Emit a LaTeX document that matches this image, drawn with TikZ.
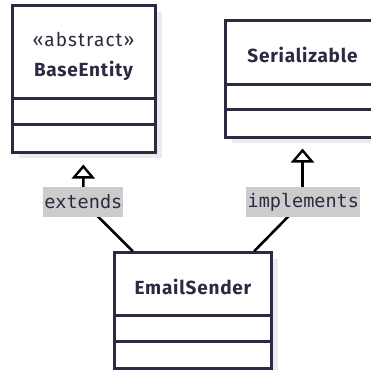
\documentclass[tikz,border=0pt]{standalone}
\usepackage{fontspec}
\setmainfont{Fira Sans}[LetterSpace=6]
\newfontfamily\namefont{Fira Sans Bold}[LetterSpace=4]
\newfontfamily\labelmono{DejaVu Sans Mono}
\usetikzlibrary{arrows.meta,calc}

\definecolor{ink}{HTML}{2B2A40}
\definecolor{shade}{HTML}{EBEBEE}
\definecolor{tagbg}{HTML}{CCCCCC}

\tikzset{
  classbox/.style={draw=ink, line width=3pt, fill=white, rectangle, inner sep=0pt},
  boxshadow/.style={fill=shade, draw=none},
  divider/.style={draw=ink, line width=3pt},
  classname/.style={text=ink, font=\namefont\fontsize{19}{21}\selectfont, inner sep=0pt, anchor=base},
  stereo/.style={text=ink, font=\fontsize{19}{21}\selectfont, inner sep=0pt, anchor=base},
  relation/.style={draw=black, line width=2.6pt, line join=miter,
    -{Triangle[open, width=23pt, length=14pt, line width=2.4pt, fill=white]}},
  reltag/.style={fill=tagbg, text=ink, font=\labelmono\fontsize{18.5}{20}\selectfont,
    inner xsep=1.2pt, inner ysep=0pt, minimum height=29.4pt}
}

\begin{document}
\begin{tikzpicture}[x=1pt, y=-1pt]
  \useasboundingbox (0,0) rectangle (371,369);

  % drop shadows behind the class boxes
  \fill[boxshadow] (19,12) rectangle (162,158);
  \fill[boxshadow] (232,27) rectangle (386,143);
  \fill[boxshadow] (121,259) rectangle (278,375);

  % class boxes
  \node[classbox, minimum width=143pt, minimum height=146pt] (base) at (83.5,79) {};
  \node[classbox, minimum width=153.6pt, minimum height=116pt] (ser) at (302.5,79) {};
  \node[classbox, minimum width=157.4pt, minimum height=115.6pt] (email) at (193,310.5) {};

  % compartment dividers
  \draw[divider] ($(base.north west)+(0,94)$) -- ($(base.north east)+(0,94)$);
  \draw[divider] ($(base.north west)+(0,120)$) -- ($(base.north east)+(0,120)$);
  \draw[divider] ($(ser.north west)+(0,65)$) -- ($(ser.north east)+(0,65)$);
  \draw[divider] ($(ser.north west)+(0,90)$) -- ($(ser.north east)+(0,90)$);
  \draw[divider] ($(email.north west)+(0,64)$) -- ($(email.north east)+(0,64)$);
  \draw[divider] ($(email.north west)+(0,90)$) -- ($(email.north east)+(0,90)$);

  % class names
  \node[stereo] (baseStereo) at (83.5,46.7) {«abstract»};
  \node[classname] (baseName) at (83.5,76.5) {BaseEntity};
  \node[classname] (serName) at (302.5,62) {Serializable};
  \node[classname] (emailName) at (193,294) {EmailSender};

  % relation bends and free ends
  \coordinate (extStart) at ($(email.north west)+(20,0)$);
  \coordinate (extBend) at (83.3,202);
  \coordinate (extTip) at (83.3,164.5);
  \coordinate (impStart) at ($(email.north east)+(-19,0)$);
  \coordinate (impBend) at (302.5,202);
  \coordinate (impTip) at (302.5,148.5);

  % generalisation and realisation
  \draw[relation] (extStart) -- (extBend) -- (extTip);
  \draw[relation] (impStart) -- (impBend) -- (impTip);

  % relation labels
  \node[reltag] (extLabel) at (83.3,202) {extends};
  \node[reltag] (impLabel) at (303.3,202) {implements};
\end{tikzpicture}
\end{document}
